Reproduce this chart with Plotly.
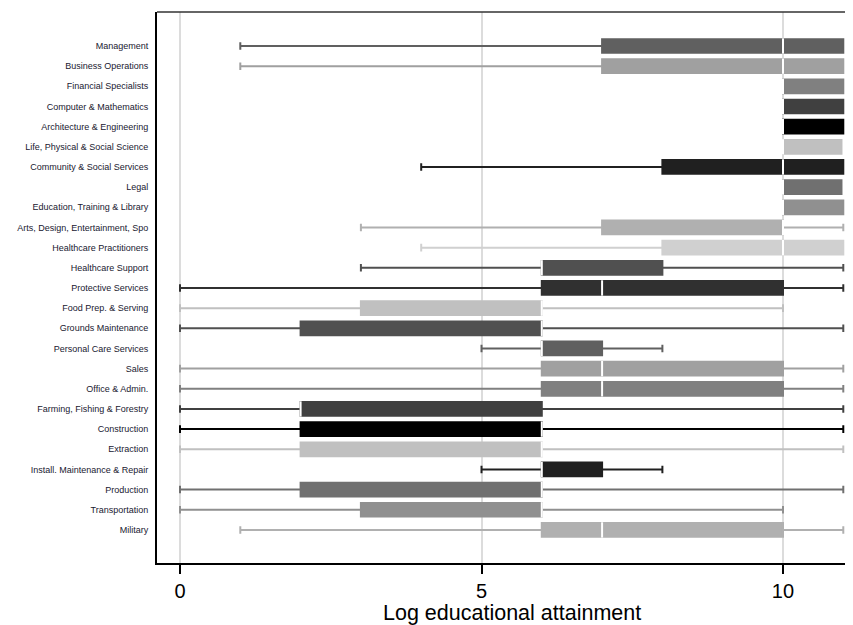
import plotly.graph_objects as go

categories = [
    "Management", "Business Operations", "Financial Specialists", "Computer & Mathematics",
    "Architecture & Engineering", "Life, Physical & Social Science", "Community & Social Services",
    "Legal", "Education, Training & Library", "Arts, Design, Entertainment, Spo",
    "Healthcare Practitioners", "Healthcare Support", "Protective Services", "Food Prep. & Serving",
    "Grounds Maintenance", "Personal Care Services", "Sales", "Office & Admin.",
    "Farming, Fishing & Forestry", "Construction", "Extraction", "Install. Maintenance & Repair",
    "Production", "Transportation", "Military",
]
whisker_low = [1, 1, 10, 10, 10, 10, 4, 10, 10, 3, 4, 3, 0, 0, 0, 5, 0, 0, 0, 0, 0, 5, 0, 0, 1]
q1_vals     = [7, 7, 10, 10, 10, 10, 8, 10, 10, 7, 8, 6, 6, 3, 2, 6, 6, 6, 2, 2, 2, 6, 2, 3, 6]
median_vals = [10, 10, 10, 10, 10, 10, 10, 10, 10, 10, 10, 6, 7, 6, 6, 6, 7, 7, 2, 6, 6, 6, 6, 6, 7]
q3_vals     = [11, 11, 11, 11, 11, 10.97, 11, 10.97, 11, 10, 11, 8, 10, 6, 6, 7, 10, 10, 6, 6, 6, 7, 6, 6, 10]
whisker_high = [11, 11, 11, 11, 11, 10.97, 11, 10.97, 11, 11, 11, 11, 11, 10, 11, 8, 11, 11, 11, 11, 11, 8, 11, 10, 11]
x_ticks = [0, 5, 10]
x_title = "Log educational attainment"

colors = ["#606060", "#a0a0a0", "#808080", "#404040", "#000000", "#c0c0c0", "#202020",
          "#707070", "#909090", "#b0b0b0", "#d0d0d0", "#505050", "#303030", "#c0c0c0",
          "#505050",
          "#606060", "#a0a0a0", "#808080", "#404040", "#000000", "#c0c0c0", "#202020",
          "#707070", "#909090", "#b0b0b0"]

BOXW = 0.68
fig = go.Figure()
for i, cat in enumerate(categories):
    c = colors[i]
    fig.add_trace(go.Box(
        y=[i], q1=[q1_vals[i]], median=[median_vals[i]], q3=[q3_vals[i]],
        lowerfence=[whisker_low[i]], upperfence=[whisker_high[i]],
        orientation="h", width=BOXW, whiskerwidth=0.55,
        fillcolor=c, line=dict(color=c, width=2),
        boxpoints=False, showlegend=False, hoverinfo="skip",
    ))

# white median lines
mx, my = [], []
for i in range(len(categories)):
    mx += [median_vals[i], median_vals[i], None]
    my += [i - BOXW / 2 - 0.04, i + BOXW / 2 + 0.04, None]
fig.add_trace(go.Scatter(x=mx, y=my, mode="lines", line=dict(color="white", width=2),
                         showlegend=False, hoverinfo="skip"))

fig.update_layout(
    width=845, height=617,
    margin=dict(l=149, r=0, t=4, b=62),
    paper_bgcolor="white", plot_bgcolor="white",
    font=dict(family="Liberation Sans, Arial, sans-serif", color="#000000"),
    showlegend=False,
    shapes=[dict(type="line", xref="paper", yref="paper", x0=0, x1=1, y0=1, y1=1,
                 line=dict(color="#333333", width=1.5))],
    annotations=[dict(text=x_title, xref="x", yref="paper", x=5.5, y=0,
                      xanchor="center", yanchor="middle", yshift=-49.5, showarrow=False,
                      font=dict(size=21.5, color="#000000"))],
)
fig.update_xaxes(
    range=[-0.3814, 11.161], tickvals=x_ticks, ticktext=[str(v) for v in x_ticks],
    showgrid=True, gridcolor="#dcdcdc", gridwidth=1.5, zeroline=False,
    showline=True, linecolor="#000000", linewidth=2,
    ticks="outside", ticklen=9, tickwidth=1.5, tickcolor="#000000",
    tickfont=dict(size=20, color="#000000"),
)
fig.update_yaxes(
    range=[25.64, -1.686], tickvals=list(range(len(categories))), ticktext=categories,
    showgrid=False, zeroline=False, showline=True, linecolor="#000000", linewidth=2,
    ticks="", ticklabelstandoff=5, tickfont=dict(size=9, color="#202030"),
)

fig.write_html("out.html")
